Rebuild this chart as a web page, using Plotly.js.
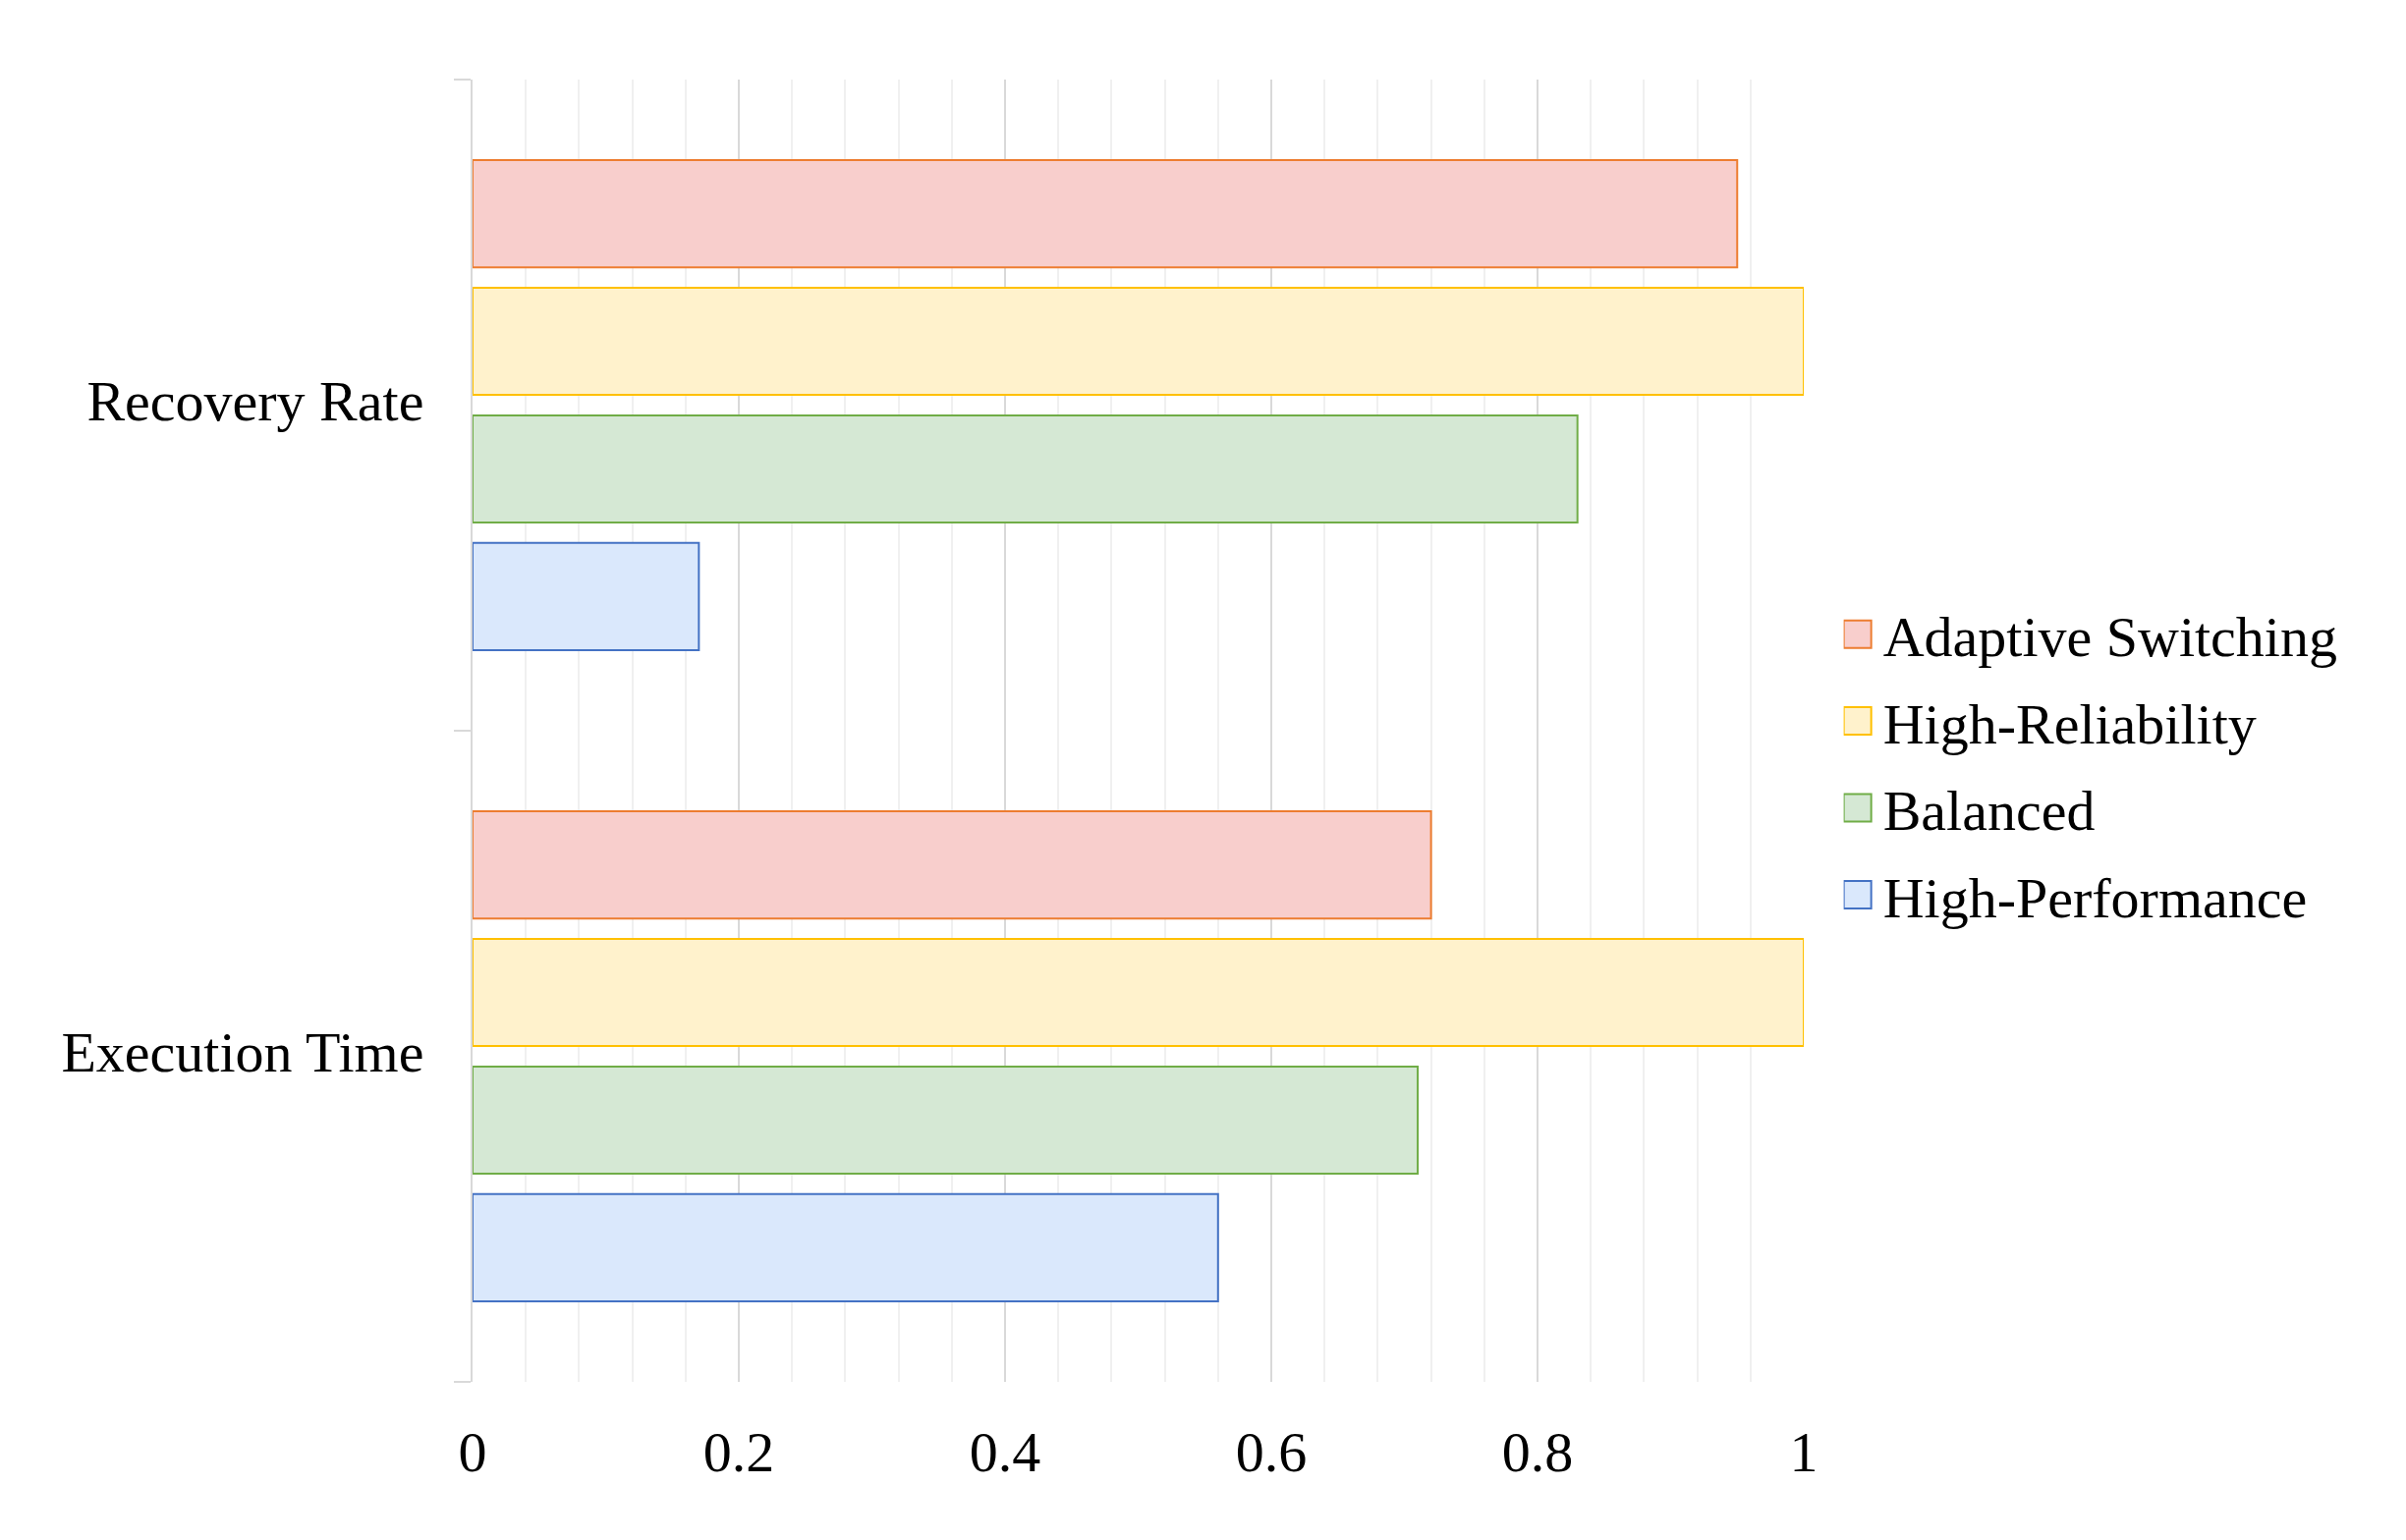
<!DOCTYPE html>
<html>
<head>
<meta charset="utf-8">
<script src="https://cdn.plot.ly/plotly-3.0.1.min.js"></script>
<style>html,body{margin:0;padding:0;background:#fff;}#chart{width:2449px;height:1568px;}</style>
</head>
<body>
<div id="chart"></div>
<script>
const categories = ['Execution Time', 'Recovery Rate'];
const seriesNames = ['High-Performance', 'Balanced', 'High-Reliability', 'Adaptive Switching'];
const highPerformance = [0.56, 0.17];
const balanced = [0.71, 0.83];
const highReliability = [1.0, 1.0];
const adaptiveSwitching = [0.72, 0.95];
const xTickVals = [0, 0.2, 0.4, 0.6, 0.8, 1];
const xTickText = ['0', '0.2', '0.4', '0.6', '0.8', '1'];

const seriesValues = [highPerformance, balanced, highReliability, adaptiveSwitching];
const fills = ['#dae8fc', '#d5e8d4', '#fff2cc', '#f8cecc'];
const lines = ['#4472c4', '#70ad47', '#ffc000', '#ed7d31'];

const traces = seriesNames.map((name, i) => ({
  type: 'bar',
  orientation: 'h',
  name: name,
  legendgroup: 'g' + i,
  legendrank: 1000 - i,
  y: categories,
  x: seriesValues[i],
  marker: {color: fills[i], line: {color: lines[i], width: 2}},
  hoverinfo: 'x+name'
}));

const font = 'Liberation Serif, Times New Roman, serif';

const layout = {
  width: 2449,
  height: 1568,
  paper_bgcolor: '#ffffff',
  plot_bgcolor: '#ffffff',
  margin: {l: 481, r: 613, t: 81, b: 161, pad: 0},
  barmode: 'group',
  bargap: 0.216,
  bargroupgap: 0.16,
  font: {family: font, size: 58, color: '#000000'},
  xaxis: {
    range: [0, 1],
    tickvals: xTickVals,
    ticktext: xTickText,
    showgrid: true,
    gridcolor: '#d9d9d9',
    gridwidth: 2,
    minor: {dtick: 0.04, showgrid: true, gridcolor: '#f0f0f0', gridwidth: 2},
    zeroline: false,
    showline: false,
    ticks: '',
    ticklabelstandoff: 32,
    tickfont: {family: font, size: 58, color: '#000000'},
    fixedrange: true
  },
  yaxis: {
    type: 'category',
    categoryorder: 'array',
    categoryarray: categories,
    tickson: 'boundaries',
    ticks: 'outside',
    ticklen: 17,
    tickwidth: 2,
    tickcolor: '#d9d9d9',
    showgrid: false,
    zeroline: false,
    showline: true,
    linecolor: '#d9d9d9',
    linewidth: 2,
    ticklabelstandoff: 36,
    ticklabelshift: -5,
    tickfont: {family: font, size: 58, color: '#000000'},
    fixedrange: true
  },
  showlegend: true,
  legend: {
    x: 1.03,
    xanchor: 'left',
    y: 0.474,
    yanchor: 'middle',
    traceorder: 'grouped',
    tracegroupgap: 10,
    font: {family: font, size: 58, color: '#000000'},
    bgcolor: 'rgba(0,0,0,0)',
    borderwidth: 0
  }
};

function bigSwatches() {
  document.querySelectorAll('.legend .legendpoints path').forEach(p => {
    p.setAttribute('d', 'M8,14H-20V-14H8Z');
    p.style.strokeWidth = '2px';
  });
}

Plotly.newPlot('chart', traces, layout, {displayModeBar: false, staticPlot: true}).then(gd => {
  bigSwatches();
  gd.on('plotly_afterplot', bigSwatches);
});
</script>
</body>
</html>
